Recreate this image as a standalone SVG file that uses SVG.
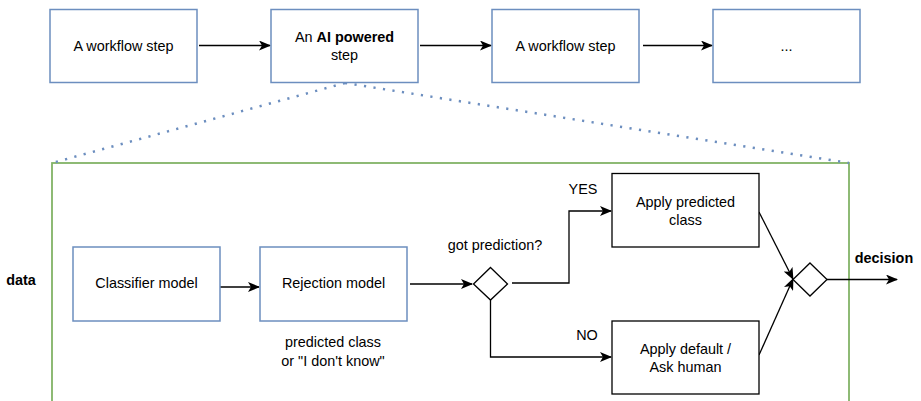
<svg xmlns="http://www.w3.org/2000/svg" width="921" height="401" viewBox="0 0 921 401">
<style>
.blue{fill:#ffffff;stroke:#6c8ebf;stroke-width:1.5}
.blk{fill:#ffffff;stroke:#000000;stroke-width:1.3}
.t{font-family:"Liberation Sans",Arial,sans-serif;font-size:14.4px;fill:#000000;text-anchor:middle}
.b{font-weight:bold}
.c{fill:none;stroke:#000000;stroke-width:1.3}
.dot{fill:none;stroke:#6c8ebf;stroke-width:2.5;stroke-dasharray:2.2 7.4}
</style>
<defs>
<marker id="ah" viewBox="0 0 12 10" refX="11" refY="5" markerWidth="12" markerHeight="10" markerUnits="userSpaceOnUse" orient="auto">
<path d="M0,0 L12,5 L0,10 L3,5 Z" fill="#000000"/>
</marker>
</defs>
<rect x="0" y="0" width="921" height="401" fill="#ffffff"/>
<g id="container">
<rect x="52" y="163" width="797" height="250" fill="none" stroke="#82b366" stroke-width="1.8"/>
</g>
<g id="zoom-lines">
<path class="dot" d="M345,83 L52,163"/>
<path class="dot" d="M345,83 L849,163"/>
</g>
<g id="connectors">
<path class="c" d="M199,45.5 L270,45.5" marker-end="url(#ah)"/>
<path class="c" d="M420,45.5 L491,45.5" marker-end="url(#ah)"/>
<path class="c" d="M643,45.5 L712,45.5" marker-end="url(#ah)"/>
<path class="c" d="M220,287 L259,287" marker-end="url(#ah)"/>
<path class="c" d="M410,284 L472,284" marker-end="url(#ah)"/>
<path class="c" d="M512,283 L569,283 L569,211 L611,211" marker-end="url(#ah)"/>
<path class="c" d="M490.5,300 L490.5,357 L611,357" marker-end="url(#ah)"/>
<path class="c" d="M759,212 L793,279" marker-end="url(#ah)"/>
<path class="c" d="M759,355 L793,279" marker-end="url(#ah)"/>
<path class="c" d="M827,279.5 L897,279.5" marker-end="url(#ah)"/>
</g>
<g id="step1"><rect class="blue" x="50" y="9.5" width="147" height="73"/><text class="t" x="123.5" y="51">A workflow step</text></g>
<g id="step2"><rect class="blue" x="271" y="9.5" width="147" height="73"/><text class="t" x="344.5" y="42">An <tspan class="b">AI powered</tspan></text><text class="t" x="344.5" y="60">step</text></g>
<g id="step3"><rect class="blue" x="492" y="9.5" width="147" height="73"/><text class="t" x="565.5" y="51">A workflow step</text></g>
<g id="step4"><rect class="blue" x="713" y="9.5" width="147" height="73"/><text class="t" x="786.5" y="51">...</text></g>
<g id="data-label"><text class="t b" x="21" y="285">data</text></g>
<g id="classifier"><rect class="blue" x="73" y="247" width="147" height="74"/><text class="t" x="146.5" y="288">Classifier model</text></g>
<g id="rejection"><rect class="blue" x="260" y="247" width="147" height="74"/><text class="t" x="333.5" y="288">Rejection model</text></g>
<g id="rejection-label"><text class="t" x="333" y="347">predicted class</text><text class="t" x="333" y="366">or "I don't know"</text></g>
<g id="decision1"><path class="blk" d="M490.5,267.5 L507.5,284 L490.5,300 L473.5,284 Z"/><text class="t" x="495" y="250">got prediction?</text></g>
<g id="yes-label"><text class="t" x="583" y="194">YES</text></g>
<g id="no-label"><text class="t" x="587" y="340">NO</text></g>
<g id="apply-predicted"><rect class="blk" x="612" y="173.5" width="147" height="73.5"/><text class="t" x="685.5" y="207">Apply predicted</text><text class="t" x="685.5" y="225">class</text></g>
<g id="apply-default"><rect class="blk" x="612" y="321" width="147" height="73"/><text class="t" x="685.5" y="354">Apply default /</text><text class="t" x="685.5" y="372">Ask human</text></g>
<g id="decision2"><path class="blk" d="M810,263 L827,279.5 L810,296 L793,279.5 Z"/></g>
<g id="decision-label"><text class="t b" x="884" y="263">decision</text></g>
</svg>
